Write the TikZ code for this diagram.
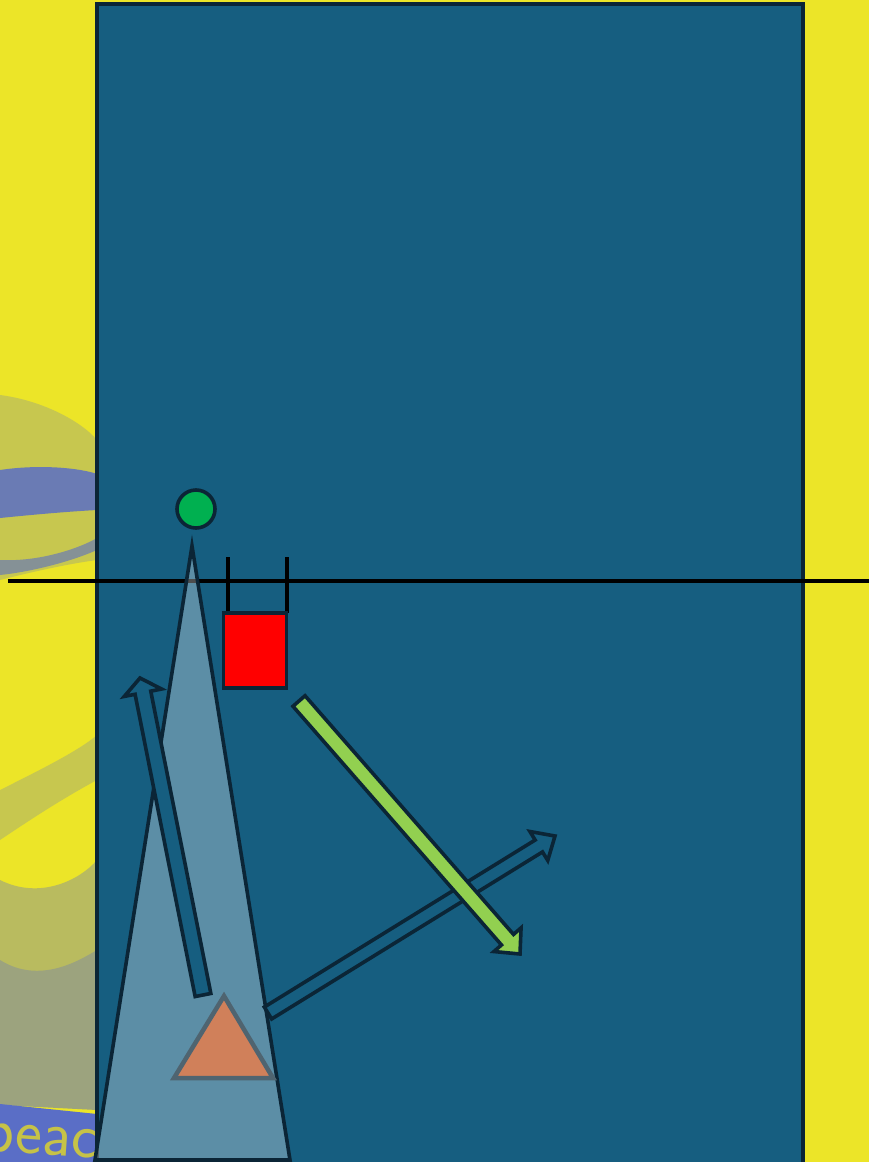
\documentclass[tikz,border=0pt]{standalone}
\usepackage{tikz}
\usetikzlibrary{calc}
\definecolor{sunyellow}{HTML}{ECE528}
\definecolor{streakblue}{HTML}{5A6EC6}
\definecolor{boardblue}{HTML}{165E80}
\definecolor{inkdark}{HTML}{0B2536}
\definecolor{leafgreen}{HTML}{92D050}
\definecolor{dotgreen}{HTML}{00B050}
\definecolor{clayorange}{HTML}{D0805A}
\definecolor{slategray}{HTML}{4F6470}

\tikzset{
  outline/.style={draw=inkdark, line width=3.6pt, line join=miter},
  shaft/.style={outline, fill=boardblue},
}
% block arrow: style, tail, tip, shaft half width, head half width, head length
\newcommand{\blockarrow}[6]{%
  \coordinate (ba-h) at ($(#3)!#6!(#2)$);
  \draw[#1] ($(#2)!#4!90:(#3)$) -- ($(ba-h)!#4!90:(#3)$) -- ($(ba-h)!#5!90:(#3)$)
    -- (#3) -- ($(ba-h)!#5!-90:(#3)$) -- ($(ba-h)!#4!-90:(#3)$)
    -- ($(#2)!#4!-90:(#3)$) -- cycle;}

\begin{document}
\begin{tikzpicture}[x=1pt, y=-1pt]
  \useasboundingbox (0,0) rectangle (869,1162);
  \clip (0,0) rectangle (869,1162);

  % photo behind the board
  \fill[sunyellow] (0,0) rectangle (869,1162);
  \fill[streakblue, opacity=0.25] (0,395) .. controls (40,400) and (80,420) .. (97,440)
    -- (97,560) .. controls (60,565) and (20,575) .. (0,580) -- cycle;
  \fill[streakblue, opacity=0.85] (0,470) .. controls (40,464) and (80,468) .. (97,474)
    -- (97,510) .. controls (60,512) and (20,516) .. (0,518) -- cycle;
  \fill[streakblue, opacity=0.6] (0,560) .. controls (40,562) and (80,548) .. (97,538)
    -- (97,550) .. controls (70,562) and (30,572) .. (0,575) -- cycle;
  \fill[streakblue, opacity=0.25] (0,790) .. controls (40,770) and (80,750) .. (97,735)
    -- (97,780) .. controls (60,800) and (30,820) .. (0,840) -- cycle;
  \fill[streakblue, opacity=0.35] (0,880) .. controls (40,900) and (80,880) .. (97,860)
    -- (97,1110) -- (0,1105) -- cycle;
  \fill[streakblue, opacity=0.3] (0,960) .. controls (40,985) and (80,960) .. (97,950)
    -- (97,1110) -- (0,1105) -- cycle;
  \fill[streakblue] (0,1104) -- (97,1114) -- (97,1162) -- (0,1162) -- cycle;
  \node[text=sunyellow!65!gray, font=\sffamily\fontsize{64}{64}\selectfont,
        anchor=base west, rotate=-4, inner sep=0pt] (bgword) at (-18,1150) {peac};

  % the board
  \draw[outline, fill=boardblue] (97,4) rectangle (803,1175);

  % the line across
  \draw[black, line width=4.5pt] (8,581) -- (869,581);
  \draw[black, line width=3.5pt] (228,557) -- (228,613);
  \draw[black, line width=3.5pt] (287,557) -- (287,613);

  % the tall cone
  \draw[outline, fill=white, fill opacity=0.3] (192,546) -- (290,1160) -- (95,1160) -- cycle;

  % ball and box
  \node[outline, circle, fill=dotgreen, minimum size=38pt, inner sep=0pt] (ball) at (196,509) {};
  \node[outline, rectangle, fill=red, minimum width=63pt, minimum height=75pt,
        inner sep=0pt] (box) at (255,650.5) {};

  % orange marker
  \draw[draw=slategray, line width=4.5pt, fill=clayorange]
    (224,996) -- (273,1078) -- (174,1078) -- cycle;

  % arrows
  \coordinate (upTail) at (203,995);
  \coordinate (upTip) at (140,678);
  \blockarrow{shaft}{upTail}{upTip}{8pt}{19pt}{15pt}

  \coordinate (longTail) at (268,1013);
  \coordinate (longTip) at (555,836);
  \blockarrow{shaft}{longTail}{longTip}{7pt}{17pt}{19pt}

  \coordinate (greenTail) at (299,701);
  \coordinate (greenTip) at (520,954);
  \blockarrow{outline, fill=leafgreen}{greenTail}{greenTip}{8pt}{18pt}{19pt}
\end{tikzpicture}
\end{document}
